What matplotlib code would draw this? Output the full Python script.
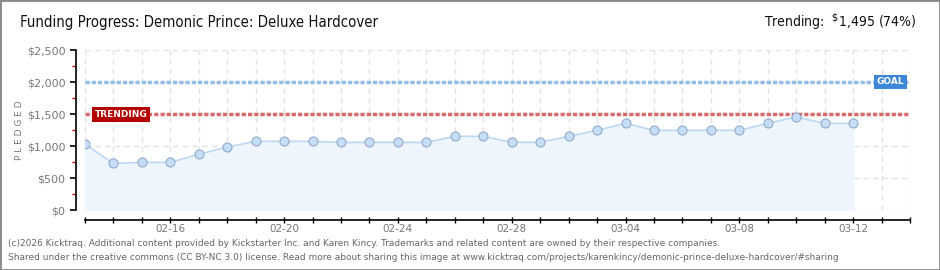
import matplotlib
matplotlib.use("Agg")
import matplotlib.pyplot as plt
import matplotlib.dates as mdates
import numpy as np
import pandas as pd
from matplotlib.patches import Rectangle

# Data
dates = pd.date_range("2026-02-13", "2026-03-12", freq="D")
pledged = [1026, 729, 745, 745, 870, 984, 1073, 1073, 1073,
           1057, 1057, 1057, 1057, 1151, 1151, 1057, 1057, 1151,
           1245, 1354, 1245, 1245, 1245, 1245, 1354, 1453, 1354, 1354]
goal = 2000
trending = 1495
x_start, x_end = pd.Timestamp("2026-02-13"), pd.Timestamp("2026-03-14")
y_ticks = [0, 500, 1000, 1500, 2000, 2500]
y_labels = ["$0", "$500", "$1,000", "$1,500", "$2,000", "$2,500"]

W, H = 940, 270
fig = plt.figure(figsize=(W / 100, H / 100), dpi=100)
fig.patches.append(Rectangle((0, 0), 1, 1, transform=fig.transFigure,
                             fill=False, edgecolor="#8a8a8a", linewidth=2))

ax = fig.add_axes([85 / W, (H - 210) / H, (910 - 85) / W, 160 / H])
ax.set_xlim(x_start, x_end)
ax.set_ylim(0, 2500)

# grid
ax.set_yticks(y_ticks)
ax.set_yticklabels(y_labels)
ax.set_yticks(np.arange(250, 2500, 500), minor=True)
ax.xaxis.set_major_locator(mdates.DayLocator(bymonthday=[16, 20, 24, 28, 4, 8, 12]))
ax.xaxis.set_minor_locator(mdates.DayLocator())
ax.xaxis.set_major_formatter(mdates.DateFormatter("%m-%d"))
ax.grid(True, which="major", axis="y", color="#e2e2e2", linestyle=(0, (4, 3)), linewidth=1)
ax.grid(True, which="both", axis="x", color="#e2e2e2", linestyle=(0, (4, 3)), linewidth=1)
ax.set_axisbelow(True)

# series
ax.fill_between(dates, pledged, 0, color="#eef5fd", zorder=1)
ax.plot(dates, pledged, color="#bcd8f5", linewidth=1.2, zorder=2)
ax.plot(dates, pledged, "o", markersize=6.5, markerfacecolor="#c6ddf7",
        markeredgecolor="#93abc9", markeredgewidth=0.8, zorder=3)

# goal and trending lines
ax.axhline(goal, color="#93bde9", linewidth=2.5, linestyle=(0, (1.2, 0.6)), zorder=2)
ax.axhline(trending, color="#d86a6a", linewidth=2.5, linestyle=(0, (1.2, 0.6)), zorder=2)
ax.text(x_start + pd.Timedelta(days=0.35), trending, "TRENDING", color="white",
        fontsize=6.5, fontweight="bold", ha="left", va="center", zorder=5,
        bbox=dict(boxstyle="square,pad=0.3", facecolor="#b50000", edgecolor="none"))
ax.text(x_end - pd.Timedelta(days=0.2), goal, "GOAL", color="white",
        fontsize=6.5, fontweight="bold", ha="right", va="center", zorder=5,
        bbox=dict(boxstyle="square,pad=0.3", facecolor="#3d87d8", edgecolor="none"))

# spines
for s in ["top", "right"]:
    ax.spines[s].set_visible(False)
ax.spines["left"].set_position(("outward", 6.5))
ax.spines["bottom"].set_position(("outward", 7.2))
ax.spines["left"].set_linewidth(1.2)
ax.spines["bottom"].set_linewidth(1.2)
ax.tick_params(axis="y", which="major", length=4, width=1.2, colors="black",
               labelcolor="#777777", labelsize=8)
ax.tick_params(axis="y", which="minor", length=3, width=1, colors="#cc0000")
ax.tick_params(axis="x", which="both", length=4, width=1, colors="black",
               labelcolor="#777777", labelsize=7.5, direction="inout", pad=1)
ax.set_ylabel("P L E D G E D", color="#777777", fontsize=6.5, labelpad=2)

# header and footer
fig.text(20 / W, 1 - 22 / H, "Funding Progress: Demonic Prince: Deluxe Hardcover",
         fontsize=10.7, color="#111111", va="center", ha="left", stretch="condensed")
fig.text(917 / W, 1 - 22 / H, r"Trending:  $^{\$}$1,495 (74%)",
         fontsize=10, color="#111111", va="center", ha="right", stretch="condensed")
fig.text(8 / W, 1 - 243 / H,
         "(c)2026 Kicktraq. Additional content provided by Kickstarter Inc. and Karen Kincy. "
         "Trademarks and related content are owned by their respective companies.",
         fontsize=6.5, color="#666666", va="center", ha="left")
fig.text(8 / W, 1 - 257 / H,
         "Shared under the creative commons (CC BY-NC 3.0) license. Read more about sharing this image at "
         "www.kicktraq.com/projects/karenkincy/demonic-prince-deluxe-hardcover/#sharing",
         fontsize=6.5, color="#666666", va="center", ha="left")

fig.savefig("out.png", dpi=100)
